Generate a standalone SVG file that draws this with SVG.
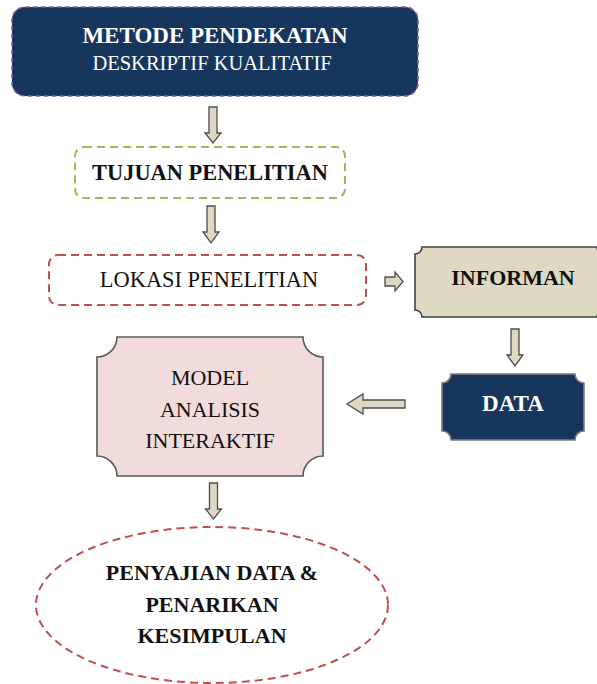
<svg xmlns="http://www.w3.org/2000/svg" width="597" height="684" viewBox="0 0 597 684">
<defs>
<style>
.t{font-family:"Liberation Serif","DejaVu Serif",serif;font-size:22px;text-anchor:middle}
.b{font-weight:bold}
.w{fill:#ffffff}
.k{fill:#111111}
.arr{fill:#ddd9c3;stroke:#4d4d4d;stroke-width:1.3;stroke-linejoin:miter}
.dash{fill:none;stroke-width:2;stroke-dasharray:8 5}
</style>
</defs>
<rect width="597" height="684" fill="#ffffff"/>
<g id="metode">
<rect x="12" y="7" width="406" height="89" rx="13" fill="#17365d" stroke="#8064a2" stroke-width="1.6" stroke-dasharray="5 3"/>
<text class="t b w" x="215" y="43" style="font-size:23px">METODE PENDEKATAN</text>
<text class="t w" x="212" y="70" style="font-size:20.5px">DESKRIPTIF KUALITATIF</text>
</g>
<g id="tujuan">
<rect x="75" y="147" width="270" height="51" rx="9" class="dash" stroke="#9bbb59"/>
<text class="t b k" x="210" y="180" style="font-size:22.4px">TUJUAN PENELITIAN</text>
</g>
<g id="lokasi">
<rect x="49" y="255" width="317" height="50" rx="9" class="dash" stroke="#c0504d"/>
<text class="t k" x="209" y="287" style="font-size:22.4px">LOKASI PENELITIAN</text>
</g>
<g id="informan">
<path d="M422,247 H597 A7 7 0 0 0 604,254 V310 A7 7 0 0 0 597,317 H422 A7 7 0 0 0 415,310 V254 A7 7 0 0 0 422,247 Z" fill="#ddd9c3" stroke="#404040" stroke-width="1.6"/>
<text class="t b k" x="513" y="285">INFORMAN</text>
</g>
<g id="data">
<path d="M451,374 H575 A9 9 0 0 0 584,383 V431 A9 9 0 0 0 575,440 H451 A9 9 0 0 0 442,431 V383 A9 9 0 0 0 451,374 Z" fill="#17365d" stroke="#7f7f7f" stroke-width="1.6"/>
<text class="t b w" x="513" y="411" style="font-size:23px">DATA</text>
</g>
<g id="model">
<path d="M117,337 H303 A20 20 0 0 0 323,357 V456 A20 20 0 0 0 303,476 H117 A20 20 0 0 0 97,456 V357 A20 20 0 0 0 117,337 Z" fill="#f2dcdb" stroke="#595959" stroke-width="1.6"/>
<text class="t k" x="210" y="385">MODEL</text>
<text class="t k" x="210" y="417">ANALISIS</text>
<text class="t k" x="210" y="448">INTERAKTIF</text>
</g>
<g id="penyajian">
<ellipse cx="212" cy="605" rx="176" ry="78" class="dash" stroke="#c0504d"/>
<text class="t b k" x="212" y="580">PENYAJIAN DATA &amp;</text>
<text class="t b k" x="212" y="612">PENARIKAN</text>
<text class="t b k" x="212" y="643">KESIMPULAN</text>
</g>
<g id="connectors">
<path class="arr" d="M209,107 H217 V133 H221 L213,143 L205,133 H209 Z"/>
<path class="arr" d="M207,206 H215 V232 H219 L211,243 L203,232 H207 Z"/>
<path class="arr" d="M385,277 H395 V272 L403,281.5 L395,291 V286 H385 Z"/>
<path class="arr" d="M511,329 H519 V355 H523 L515,366 L507,355 H511 Z"/>
<path class="arr" d="M405,400 V408 H363 V414 L347,404 L363,394 V400 Z"/>
<path class="arr" d="M209.5,483 H217.5 V509 H221.5 L213.5,519 L205.5,509 H209.5 Z"/>
</g>
</svg>
